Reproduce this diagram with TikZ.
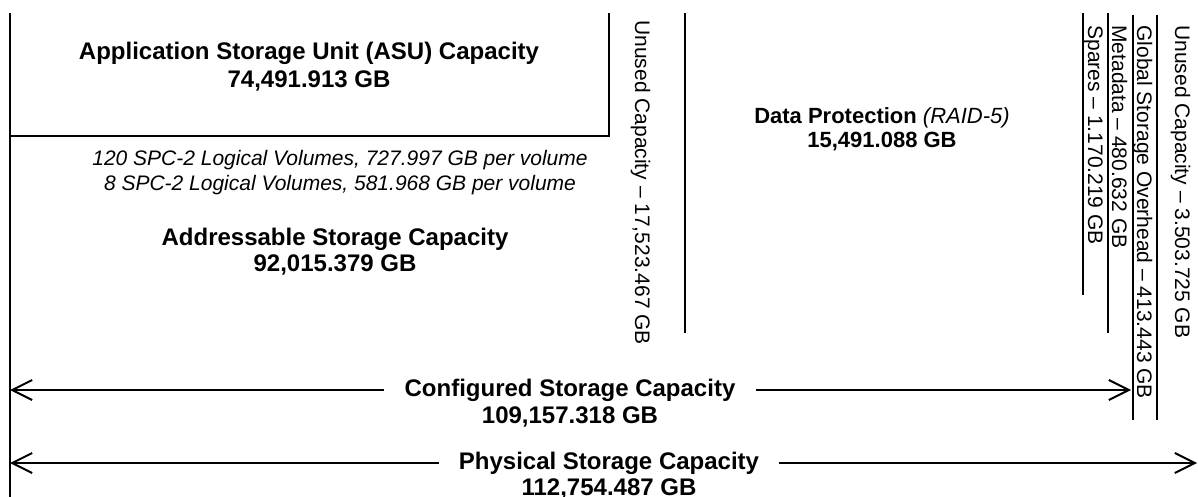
\documentclass[tikz,border=0pt]{standalone}
\usepackage{fontspec}
\setmainfont{Liberation Sans}
\usetikzlibrary{arrows.meta}
\begin{document}
\begin{tikzpicture}[x=0.5pt,y=-0.5pt,
  mainline/.style={line width=1pt},
  thinline/.style={line width=0.75pt},
  bigtext/.style={font=\fontsize{12}{14}\selectfont\bfseries, align=center, inner sep=0pt},
  midtext/.style={font=\fontsize{11}{12}\selectfont\bfseries, align=center, inner sep=0pt},
  smalltext/.style={font=\fontsize{10.5}{12.5}\selectfont\itshape, align=center, inner sep=0pt},
  vtext/.style={font=\fontsize{10.5}{12}\selectfont, rotate=-90, anchor=base west, inner sep=0pt},
  dimlabel/.style={font=\fontsize{12}{14}\selectfont\bfseries, inner xsep=10pt, inner ysep=0pt},
  barb/.style={line width=1pt, -{Straight Barb[length=10pt,width=10pt,line width=1pt]}}
]
\useasboundingbox (0,0) rectangle (1198,497);

% structural lines
\coordinate (lt) at (10,13);
\coordinate (lb) at (10,497);
\draw[mainline] (lt) -- (lb);
\coordinate (bt) at (609,13);
\coordinate (bc) at (609,136);
\coordinate (bl) at (10,136);
\draw[mainline] (bt) -- (bc) -- (bl);
\coordinate (ut) at (685,13);
\coordinate (ub) at (685,333);
\draw[mainline] (ut) -- (ub);

% right group of lines
\coordinate (s1t) at (1083,13);  \coordinate (s1b) at (1083,295);
\coordinate (s2t) at (1108,13);  \coordinate (s2b) at (1108,333);
\coordinate (s3t) at (1133,15);  \coordinate (s3b) at (1133,420);
\coordinate (s4t) at (1157,15);  \coordinate (s4b) at (1157,420);
\draw[thinline] (s1t) -- (s1b);
\draw[thinline] (s2t) -- (s2b);
\draw[thinline] (s3t) -- (s3b);
\draw[thinline] (s4t) -- (s4b);

% texts
\node[bigtext] (asu) at (309,67) {Application Storage Unit (ASU) Capacity\\74,491.913 GB};
\node[smalltext] (vols) at (340,173)
  {120 SPC-2 Logical Volumes, 727.997 GB per volume\\8 SPC-2 Logical Volumes, 581.968 GB per volume};
\node[bigtext, font=\fontsize{12}{13}\selectfont\bfseries] (addr) at (335,252) {Addressable Storage Capacity\\92,015.379 GB};
\node[midtext] (dp) at (882,129) {Data Protection \textmd{\textit{(RAID-5)}}\\15,491.088 GB};

\node[vtext] (unused1) at (635,20) {Unused Capacity – 17,523.467 GB};
\node[vtext] (spares) at (1088,25) {Spares – 1.170.219 GB};
\node[vtext] (meta) at (1112,25) {Metadata – 480.632 GB};
\node[vtext] (gso) at (1137,25) {Global Storage Overhead – 413.443 GB};
\node[vtext] (unused2) at (1175,25) {Unused Capacity – 3.503.725 GB};

% configured
\node[dimlabel] (conf) at (570,390) {Configured Storage Capacity};
\node[bigtext] (confv) at (570,417) {109,157.318 GB};
\coordinate (cl) at (10,390);
\coordinate (cr) at (1131,390);
\draw[barb] (conf.west) -- (cl);
\draw[barb] (conf.east) -- (cr);

% physical
\node[dimlabel] (phys) at (609,463) {Physical Storage Capacity};
\node[bigtext] (physv) at (609,489) {112,754.487 GB};
\coordinate (pl) at (10,463);
\coordinate (pr) at (1197,463);
\draw[barb] (phys.west) -- (pl);
\draw[barb] (phys.east) -- (pr);
\end{tikzpicture}
\end{document}
